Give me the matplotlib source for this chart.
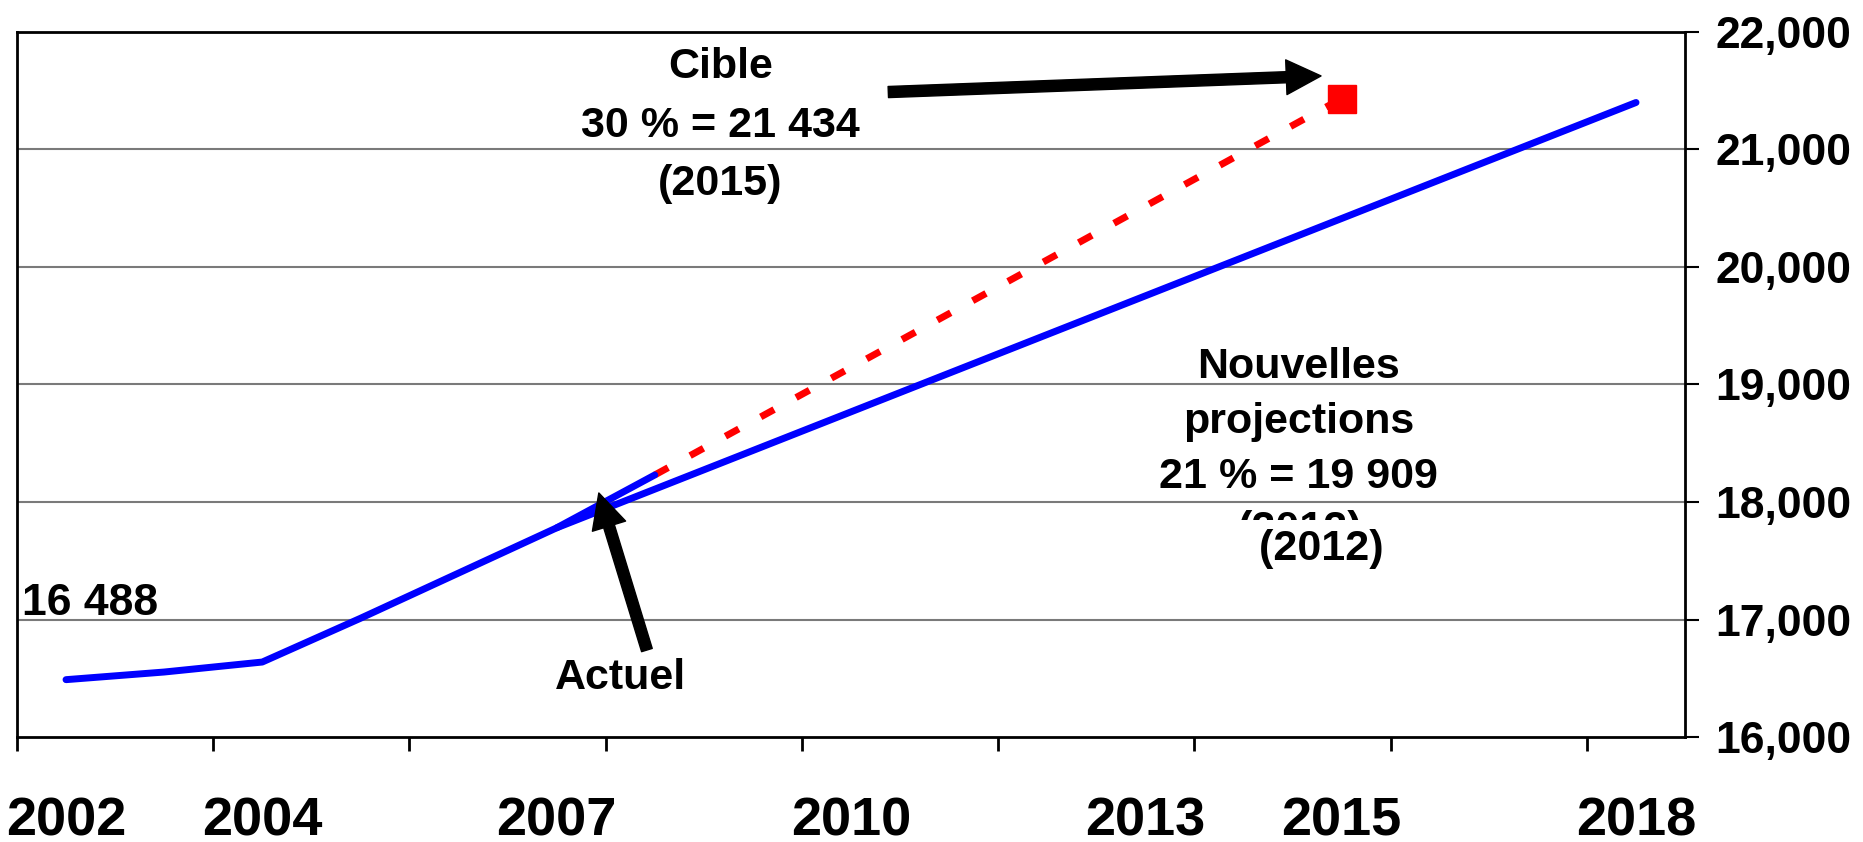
import matplotlib.pyplot as plt

# data
hist_years = [2002, 2003, 2004, 2005, 2006, 2007, 2008]
hist_values = [16488, 16553, 16638, 17010, 17395, 17780, 18230]
proj_years = [2007, 2018]
proj_values = [17780, 21400]
target_years = [2008, 2015]
target_values = [18230, 21434]
label_years = [2002, 2004, 2007, 2010, 2013, 2015, 2018]
y_ticks = [16000, 17000, 18000, 19000, 20000, 21000, 22000]

plt.rcParams['font.family'] = ['Liberation Sans', 'DejaVu Sans']
plt.rcParams['font.weight'] = 'bold'

fig = plt.figure(figsize=(18.63, 8.42), dpi=100)
ax = fig.add_axes([0.0091, 0.1247, 0.8954, 0.8373])

ax.set_xlim(2001.5, 2018.5)
ax.set_ylim(16000, 22000)

# gridlines
for v in y_ticks[1:-1]:
    ax.axhline(v, color='#7a7a7a', lw=1.5, zorder=1)

ax.plot(proj_years, proj_values, color='#0000ff', lw=5, solid_capstyle='round', zorder=3)
ax.plot(hist_years, hist_values, color='#0000ff', lw=5, solid_capstyle='round', zorder=3)
ax.plot(target_years, target_values, color='#ff0000', lw=5, dashes=(2.2, 3.6),
        dash_capstyle='butt', zorder=2)
ax.plot(target_years[-1], target_values[-1], marker='s', color='#ff0000', ms=19.5, zorder=4)

# axes look
for s in ax.spines.values():
    s.set_linewidth(2)
    s.set_color('black')
ax.yaxis.tick_right()
ax.set_yticks(y_ticks)
ax.set_yticklabels(['{:,}'.format(v) for v in y_ticks])
ax.tick_params(axis='y', direction='out', length=10, width=1.5, pad=12,
               labelsize=32, colors='black')

ax.set_xticks([2001.5 + 2 * i for i in range(9)])
ax.set_xticklabels([])
ax.tick_params(axis='x', which='major', direction='out', length=10, width=2)
ax.set_xticks(label_years, minor=True)
ax.set_xticklabels([str(y) for y in label_years], minor=True)
ax.tick_params(axis='x', which='minor', length=0, pad=43, labelsize=39)

# annotations
ax.text(2008.67, 21609, 'Cible', ha='center', va='baseline', fontsize=31)
ax.text(2008.67, 21106, '30 % = 21 434', ha='center', va='baseline', fontsize=31)
ax.text(2008.67, 20613, '(2015)', ha='center', va='baseline', fontsize=31)

ax.text(2014.56, 19055, 'Nouvelles', ha='center', va='baseline', fontsize=31)
ax.text(2014.56, 18587, 'projections', ha='center', va='baseline', fontsize=31)
ax.text(2014.56, 18119, '21 % = 19 909', ha='center', va='baseline', fontsize=31)
# older label left half-hidden behind the new one
ax.text(2014.58, 17668, '(2012)', ha='center', va='baseline', fontsize=31, zorder=5)
ax.text(2014.79, 17506, '  (2012)  ', ha='center', va='baseline', fontsize=31, zorder=6,
        bbox=dict(boxstyle='square,pad=0.2', fc='white', ec='none'))

ax.text(2002.25, 17038, '16 488', ha='center', va='baseline', fontsize=32)
ax.text(2007.65, 16408, 'Actuel', ha='center', va='baseline', fontsize=31)

arrow = dict(arrowstyle='simple,head_length=1,head_width=1,tail_width=0.32',
             mutation_scale=25, fc='black', ec='black', shrinkA=0, shrinkB=0)
ax.annotate('', xy=(2014.79, 21626), xytext=(2010.38, 21489), arrowprops=arrow, zorder=7)
ax.annotate('', xy=(2007.43, 18077), xytext=(2007.92, 16740), arrowprops=arrow, zorder=7)

fig.savefig('out.png', dpi=100)
